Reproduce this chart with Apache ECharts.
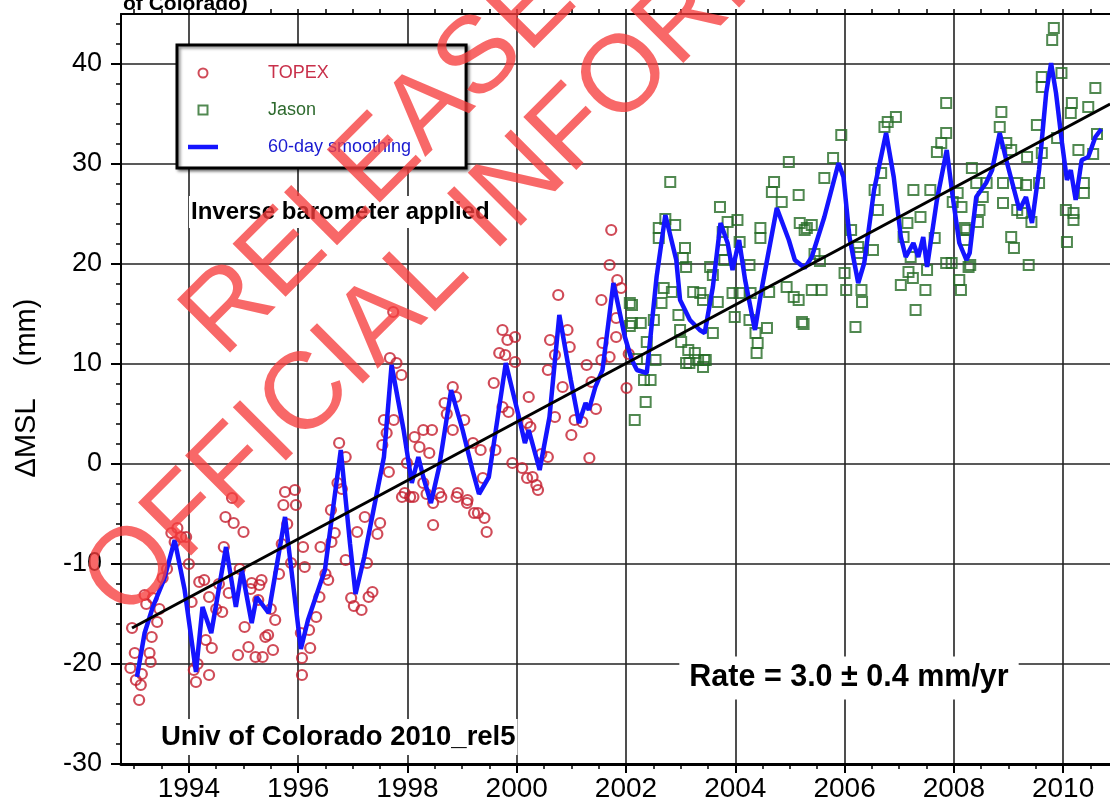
<!DOCTYPE html>
<html>
<head>
<meta charset="utf-8">
<script src="https://cdn.jsdelivr.net/npm/echarts@6/dist/echarts.min.js"></script>
<style>
html,body{margin:0;padding:0;background:#fff;}
#c{width:1110px;height:805px;}
</style>
</head>
<body>
<div id="c"></div>
<script>
// ---------------- data (year, ΔMSL mm) ----------------
const topex = [
[1992.93,-20.4],[1992.96,-16.4],[1993.01,-18.9],[1993.03,-21.6],[1993.09,-23.6],[1993.12,-22.1],[1993.14,-21.0],
[1993.19,-13.1],[1993.22,-14.0],[1993.28,-18.9],[1993.30,-19.8],[1993.32,-17.3],[1993.34,-13.4],[1993.42,-15.8],
[1993.46,-14.5],[1993.52,-11.4],[1993.60,-10.5],[1993.68,-6.9],[1993.74,-7.8],[1993.79,-6.4],[1993.86,-7.3],
[1993.95,-7.3],[1994.00,-10.0],[1994.05,-13.8],[1994.09,-20.6],[1994.13,-21.8],[1994.16,-20.0],[1994.19,-11.8],
[1994.28,-11.6],[1994.31,-17.6],[1994.37,-21.1],[1994.37,-13.3],[1994.42,-18.4],[1994.50,-14.5],[1994.55,-12.0],
[1994.61,-14.8],[1994.64,-8.3],[1994.67,-5.3],[1994.73,-12.9],[1994.79,-3.4],[1994.82,-5.9],[1994.90,-19.1],
[1994.93,-10.5],[1995.00,-6.8],[1995.02,-16.3],[1995.09,-18.3],[1995.13,-12.5],[1995.15,-11.9],[1995.22,-19.3],
[1995.27,-13.6],[1995.29,-12.1],[1995.33,-11.6],[1995.35,-19.3],[1995.40,-17.3],[1995.45,-17.1],[1995.50,-14.5],
[1995.54,-18.6],[1995.58,-15.6],[1995.65,-11.0],[1995.70,-8.0],[1995.73,-4.1],[1995.76,-2.8],[1995.80,-6.0],
[1995.87,-9.9],[1995.94,-2.6],[1995.96,-4.1],[1996.05,-16.9],[1996.07,-19.4],[1996.07,-21.1],[1996.09,-8.3],
[1996.12,-10.3],[1996.20,-16.6],[1996.22,-18.4],[1996.33,-15.3],[1996.39,-13.3],[1996.41,-8.3],[1996.50,-11.0],
[1996.55,-11.6],[1996.60,-4.6],[1996.61,-7.8],[1996.67,-6.9],[1996.72,-1.9],[1996.75,2.1],[1996.80,-2.5],
[1996.87,0.7],[1996.87,-9.6],[1996.97,-13.4],[1997.02,-14.2],[1997.08,-6.8],[1997.16,-14.6],[1997.22,-5.3],
[1997.26,-9.9],[1997.29,-13.3],[1997.36,-12.8],[1997.45,-7.0],[1997.50,-5.9],[1997.54,1.9],[1997.57,4.4],
[1997.62,3.1],[1997.66,-0.8],[1997.68,10.6],[1997.74,15.2],[1997.75,4.4],[1997.80,10.1],[1997.89,8.9],
[1997.90,-3.3],[1997.95,-2.9],[1997.99,0.1],[1998.05,-3.3],[1998.11,-3.3],[1998.13,2.7],[1998.22,1.7],
[1998.29,3.4],[1998.29,-1.9],[1998.35,-3.0],[1998.40,1.1],[1998.45,3.4],[1998.47,-3.9],[1998.47,-6.1],
[1998.58,-2.9],[1998.62,-3.3],[1998.68,6.1],[1998.72,5.0],[1998.83,7.7],[1998.83,3.4],[1998.89,6.7],
[1998.90,-3.3],[1998.92,-2.9],[1999.04,4.4],[1999.09,-3.9],[1999.10,-3.6],[1999.20,2.1],[1999.22,-4.9],
[1999.29,-4.9],[1999.34,1.4],[1999.38,-1.4],[1999.41,-5.4],[1999.45,-6.8],[1999.58,8.1],[1999.61,1.4],
[1999.68,11.1],[1999.74,13.4],[1999.74,5.7],[1999.79,10.9],[1999.83,12.4],[1999.85,5.2],[1999.92,0.1],
[1999.97,12.7],[1999.97,10.2],[2000.10,-0.4],[2000.19,-1.4],[2000.19,4.1],[2000.22,6.7],[2000.25,3.7],
[2000.29,-1.3],[2000.36,-2.1],[2000.39,-2.6],[2000.45,1.0],[2000.57,0.7],[2000.57,9.4],[2000.61,12.4],
[2000.70,10.9],[2000.70,4.7],[2000.76,16.9],[2000.84,7.7],[2000.93,13.4],[2000.97,11.7],[2001.00,2.9],
[2001.06,4.4],[2001.20,4.2],[2001.28,9.9],[2001.33,0.6],[2001.37,8.2],[2001.45,5.5],[2001.55,16.4],
[2001.55,10.4],[2001.57,12.1],[2001.70,19.9],[2001.70,10.7],[2001.73,23.4],[2001.82,14.6],[2001.82,12.7],
[2001.84,18.4],[2001.91,17.6],[2002.01,7.6],[2002.05,11.0]
];
const jason = [
[2002.07,16.1],[2002.07,13.8],[2002.11,15.9],[2002.11,14.1],[2002.16,4.4],[2002.20,10.5],[2002.27,14.1],
[2002.33,8.4],[2002.36,6.2],[2002.38,12.2],[2002.45,8.4],[2002.51,14.4],[2002.54,10.4],[2002.60,23.6],
[2002.60,22.6],[2002.65,16.1],[2002.69,17.6],[2002.72,24.5],[2002.81,28.2],[2002.84,17.2],[2002.90,23.9],
[2002.96,14.9],[2002.99,13.4],[2003.01,12.2],[2003.04,20.6],[2003.08,21.6],[2003.10,19.7],[2003.10,10.1],
[2003.14,11.4],[2003.16,10.1],[2003.23,17.2],[2003.26,11.1],[2003.32,10.4],[2003.36,17.1],[2003.41,16.4],
[2003.41,9.7],[2003.43,10.4],[2003.46,10.4],[2003.54,19.7],[2003.59,18.9],[2003.59,13.1],[2003.68,16.2],
[2003.72,25.7],[2003.77,23.2],[2003.77,21.4],[2003.80,20.4],[2003.86,24.2],[2003.95,17.1],[2003.99,14.7],
[2004.04,24.4],[2004.08,22.2],[2004.08,17.1],[2004.26,19.9],[2004.26,14.4],[2004.28,17.1],[2004.37,13.1],
[2004.39,11.1],[2004.41,12.1],[2004.46,23.6],[2004.46,22.6],[2004.58,13.6],[2004.62,17.2],[2004.67,27.2],
[2004.71,28.2],[2004.85,26.2],[2004.94,17.7],[2004.98,30.2],[2005.07,16.7],[2005.16,26.9],[2005.16,16.4],
[2005.18,24.1],[2005.22,14.2],[2005.25,14.0],[2005.27,23.4],[2005.31,23.6],[2005.40,23.9],[2005.40,17.4],
[2005.45,21.0],[2005.55,20.3],[2005.58,17.4],[2005.63,28.6],[2005.79,30.6],[2005.94,32.9],[2006.00,19.1],
[2006.03,17.4],[2006.12,23.4],[2006.20,13.7],[2006.25,21.7],[2006.27,21.1],[2006.31,17.4],[2006.32,16.2],
[2006.52,21.4],[2006.55,27.4],[2006.61,25.4],[2006.67,29.1],[2006.73,33.7],[2006.79,34.2],[2006.94,34.7],
[2007.03,17.9],[2007.08,22.7],[2007.15,24.1],[2007.17,19.2],[2007.21,20.7],[2007.25,18.6],[2007.26,27.4],
[2007.30,15.4],[2007.39,24.7],[2007.48,17.4],[2007.51,19.4],[2007.57,27.4],[2007.65,22.6],[2007.69,31.2],
[2007.77,32.1],[2007.86,36.1],[2007.86,33.1],[2007.86,20.1],[2007.96,20.1],[2007.98,26.2],[2008.07,27.1],
[2008.10,18.4],[2008.13,17.4],[2008.14,25.7],[2008.20,23.6],[2008.20,22.4],[2008.23,23.4],[2008.27,19.7],
[2008.30,19.9],[2008.33,29.6],[2008.41,28.1],[2008.44,24.2],[2008.47,25.4],[2008.53,26.7],[2008.60,28.1],
[2008.84,33.7],[2008.87,35.2],[2008.90,28.1],[2008.90,26.1],[2008.96,32.1],[2009.05,31.4],[2009.05,22.7],
[2009.10,21.6],[2009.16,28.1],[2009.16,25.4],[2009.25,25.1],[2009.32,27.9],[2009.34,30.7],[2009.37,19.9],
[2009.42,24.2],[2009.52,33.9],[2009.56,28.1],[2009.61,38.7],[2009.61,37.7],[2009.61,31.1],[2009.80,42.4],
[2009.83,43.6],[2009.89,32.6],[2009.97,39.1],[2010.05,25.4],[2010.07,22.2],[2010.14,35.1],[2010.16,36.1],
[2010.19,25.1],[2010.19,24.4],[2010.28,31.4],[2010.38,28.1],[2010.38,27.1],[2010.46,35.7],[2010.55,31.0],
[2010.59,37.6],[2010.62,33.0]
];
const smoothing = [
[1993.05,-21.3],[1993.19,-16.9],[1993.34,-14.3],[1993.55,-11.5],[1993.74,-7.6],[1993.92,-12.5],[1994.13,-20.8],
[1994.25,-14.3],[1994.41,-16.9],[1994.68,-8.3],[1994.86,-14.3],[1994.97,-10.6],[1995.15,-15.9],[1995.24,-13.3],
[1995.46,-14.9],[1995.76,-5.3],[1996.05,-18.5],[1996.18,-15.6],[1996.49,-10.6],[1996.78,1.4],[1996.95,-8.0],
[1997.05,-13.0],[1997.21,-9.3],[1997.57,0.7],[1997.71,9.9],[1997.93,3.4],[1998.08,-1.9],[1998.20,0.7],
[1998.29,-1.3],[1998.43,-3.9],[1998.58,-0.3],[1998.80,7.4],[1999.01,3.4],[1999.19,-0.6],[1999.31,-3.0],
[1999.49,-1.3],[1999.80,10.1],[2000.04,4.7],[2000.15,2.1],[2000.22,3.4],[2000.42,-0.6],[2000.60,4.7],
[2000.78,14.9],[2000.99,8.4],[2001.14,4.1],[2001.26,6.1],[2001.32,5.4],[2001.44,7.7],[2001.57,9.4],
[2001.77,18.1],[2001.98,12.7],[2002.10,10.5],[2002.20,9.4],[2002.38,9.1],[2002.56,18.7],[2002.72,24.9],
[2002.92,20.4],[2002.99,16.4],[2003.17,14.4],[2003.35,13.4],[2003.44,13.1],[2003.59,17.7],[2003.73,24.1],
[2003.86,22.1],[2003.95,19.4],[2004.07,22.4],[2004.18,18.4],[2004.36,13.4],[2004.49,17.7],[2004.76,25.6],
[2004.98,22.4],[2005.09,20.4],[2005.27,19.6],[2005.40,20.7],[2005.63,24.7],[2005.89,30.1],[2005.98,28.7],
[2006.09,22.7],[2006.25,18.1],[2006.36,20.1],[2006.54,27.4],[2006.76,33.1],[2006.90,28.7],[2007.03,22.7],
[2007.12,20.7],[2007.26,22.1],[2007.35,20.7],[2007.44,22.7],[2007.51,19.7],[2007.69,26.4],[2007.87,31.4],
[2007.98,26.7],[2008.10,22.1],[2008.23,20.4],[2008.29,21.1],[2008.41,26.7],[2008.59,28.1],[2008.70,29.4],
[2008.84,33.1],[2008.96,30.4],[2009.07,28.1],[2009.20,25.4],[2009.32,26.7],[2009.43,24.1],[2009.56,29.4],
[2009.69,37.1],[2009.78,40.1],[2009.87,37.1],[2009.98,32.1],[2010.07,28.4],[2010.14,29.4],[2010.23,26.4],
[2010.34,30.4],[2010.46,30.7],[2010.59,32.7],[2010.70,33.5]
];
const trend = [[1992.96,-16.4],[2010.86,36.0]];

const xTickLabels = [1994,1996,1998,2000,2002,2004,2006,2008,2010];
const yTickLabels = [-30,-20,-10,0,10,20,30,40];
const seriesNames = ['TOPEX','Jason','60-day smoothing'];

// ---------------- layout / style ----------------
const X_MIN = 1992.758, X_MAX = 2010.858, Y_MIN = -30, Y_MAX = 45;
const xMinorTicks = []; for (let i = 0; 1993 + i*0.5 <= 2010.5; i++) xMinorTicks.push(1993 + i*0.5);
const yMinorTicks = []; for (let v = -30; v <= 44; v += 2) yMinorTicks.push(v);
const FONT = '"Liberation Sans", Arial, Helvetica, sans-serif';
const gridBox = {left:121, top:14, width:1000, height:750};
const WM = 'rgba(246,62,62,0.78)';
const RED = '#c41e2e', GREEN = '#256b25', BLUE = '#1414ff';

const chart = echarts.init(document.getElementById('c'), null, {renderer:'canvas', width:1110, height:805});
const fmtInt = v => String(Math.round(v));

chart.setOption({
  animation:false,
  backgroundColor:'#ffffff',
  textStyle:{fontFamily:FONT},
  grid:[Object.assign({}, gridBox), Object.assign({}, gridBox)],
  xAxis:[
    {gridIndex:0, type:'value', position:'bottom', min:X_MIN, max:X_MAX,
     axisLine:{show:true, onZero:false, lineStyle:{color:'#000', width:3}},
     axisTick:{show:true, inside:false, length:9, customValues:xTickLabels, lineStyle:{color:'#000', width:2}},
     axisLabel:{show:true, customValues:xTickLabels, formatter:fmtInt, fontSize:28, color:'#000', margin:11, fontFamily:FONT},
     splitLine:{show:true, lineStyle:{color:'#222', width:1.6}},
     minorTick:{show:false}},
    {gridIndex:0, type:'value', position:'top', min:X_MIN, max:X_MAX,
     axisLine:{show:true, onZero:false, lineStyle:{color:'#000', width:2}},
     axisTick:{show:true, inside:false, length:5, customValues:xMinorTicks, lineStyle:{color:'#000', width:1.5}},
     axisLabel:{show:false}, splitLine:{show:false}},
    {gridIndex:1, type:'value', position:'bottom', min:X_MIN, max:X_MAX,
     axisLine:{show:false, onZero:false},
     axisTick:{show:true, inside:false, length:5, customValues:xMinorTicks, lineStyle:{color:'#000', width:1.5}},
     axisLabel:{show:false}, splitLine:{show:false}}
  ],
  yAxis:[
    {gridIndex:0, type:'value', position:'left', min:Y_MIN, max:Y_MAX,
     axisLine:{show:true, onZero:false, lineStyle:{color:'#000', width:2}},
     axisTick:{show:true, inside:false, length:10, customValues:yTickLabels, lineStyle:{color:'#000', width:2}},
     axisLabel:{show:true, customValues:yTickLabels, formatter:fmtInt, fontSize:27, color:'#000', margin:19, fontFamily:FONT},
     splitLine:{show:true, lineStyle:{color:'#222', width:1.6}}},
    {gridIndex:1, type:'value', position:'left', min:Y_MIN, max:Y_MAX,
     axisLine:{show:false, onZero:false},
     axisTick:{show:true, inside:false, length:5, customValues:yMinorTicks, lineStyle:{color:'#000', width:1.5}},
     axisLabel:{show:false}, splitLine:{show:false}}
  ],
  legend:{
    left:177, top:45, orient:'vertical',
    backgroundColor:'#fff', borderColor:'#000', borderWidth:3, borderRadius:0,
    padding:[19,55,12,11], itemGap:19, itemWidth:30, itemHeight:9,
    shadowColor:'rgba(0,0,0,0.45)', shadowBlur:3, shadowOffsetX:2, shadowOffsetY:2,
    selectedMode:false, symbolKeepAspect:true,
    textStyle:{fontSize:18, fontFamily:FONT, padding:[0,0,0,45]},
    data:[
      {name:seriesNames[0], icon:'circle', textStyle:{color:'#c8304a'}},
      {name:seriesNames[1], icon:'path://M0,0L10,0L10,10L0,10Z', textStyle:{color:'#2e6a2e'}},
      {name:seriesNames[2], icon:'path://M0,0L30,0L30,4.5L0,4.5Z', itemStyle:{color:BLUE, borderWidth:0}, textStyle:{color:'#1a1ad0'}}
    ]
  },
  series:[
    {name:seriesNames[0], type:'scatter', xAxisIndex:0, yAxisIndex:0, data:topex,
     symbol:'circle', symbolSize:10, z:3,
     itemStyle:{color:'rgba(255,255,255,0)', borderColor:RED, borderWidth:2.2}},
    {name:seriesNames[1], type:'scatter', xAxisIndex:0, yAxisIndex:0, data:jason,
     symbol:'rect', symbolSize:10, z:3,
     itemStyle:{color:'rgba(255,255,255,0)', borderColor:GREEN, borderWidth:2}},
    {name:seriesNames[2], type:'line', xAxisIndex:0, yAxisIndex:0, data:smoothing,
     symbol:'none', z:4, lineStyle:{color:BLUE, width:4.5}, itemStyle:{color:BLUE}},
    {name:'trend', type:'line', xAxisIndex:0, yAxisIndex:0, data:trend,
     symbol:'none', z:5, silent:true, lineStyle:{color:'#000', width:3}, itemStyle:{color:'#000'}}
  ],
  graphic:[
    {type:'text', x:123, y:15, z:10, silent:true,
     style:{text:'of Colorado)', fontSize:21, fontWeight:'bold', fontFamily:FONT, fill:'#000', align:'left', verticalAlign:'bottom'}},
    {type:'text', x:27, y:388, rotation:Math.PI/2, z:10, silent:true,
     style:{text:'ΔMSL    (mm)', fontSize:29, fontFamily:FONT, fill:'#000', align:'center', verticalAlign:'middle'}},
    {type:'text', x:189, y:212, z:6, silent:true,
     style:{text:'Inverse barometer applied', fontSize:24, fontWeight:'bold', fontFamily:FONT, fill:'#000',
            align:'left', verticalAlign:'middle', backgroundColor:'#fff', padding:[4,2,4,2]}},
    {type:'text', x:159, y:737, z:6, silent:true,
     style:{text:'Univ of Colorado 2010_rel5', fontSize:27.5, fontWeight:'bold', fontFamily:FONT, fill:'#000',
            align:'left', verticalAlign:'middle', backgroundColor:'#fff', padding:[4,2,4,2]}},
    {type:'text', x:849, y:678, z:6, silent:true,
     style:{text:'Rate = 3.0 ± 0.4 mm/yr', fontSize:30.5, fontWeight:'bold', fontFamily:FONT, fill:'#000',
            align:'center', verticalAlign:'middle', backgroundColor:'#fff', padding:[5,10,7,10]}},
    {type:'text', x:230, y:365, rotation:Math.PI/4, z:100, silent:true,
     style:{text:'RELEASED UNDER THE', x:0, y:-39, fontSize:109, fontFamily:FONT, fill:WM, align:'left', verticalAlign:'middle'}},
    {type:'text', x:131, y:628, rotation:Math.PI/4, z:100, silent:true,
     style:{text:'OFFICIAL INFORMATION ACT 1982', x:0, y:-39, fontSize:109, fontFamily:FONT, fill:WM, align:'left', verticalAlign:'middle'}}
  ]
});
</script>
</body>
</html>
